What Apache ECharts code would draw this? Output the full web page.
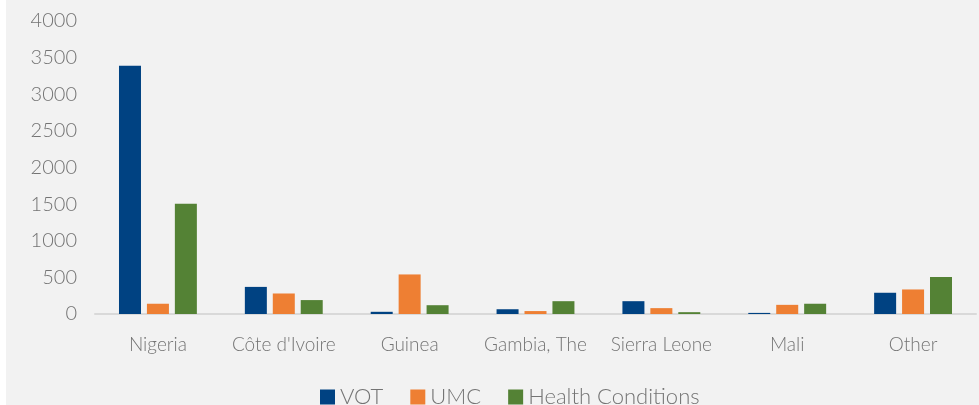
<!DOCTYPE html>
<html>
<head>
<meta charset="utf-8">
<script src="https://cdn.jsdelivr.net/npm/echarts@6/dist/echarts.min.js"></script>
<style>
html,body{margin:0;padding:0;background:#ffffff;}
#chart{position:absolute;left:6px;top:0;width:973px;height:405px;}
</style>
</head>
<body>
<div id="chart"></div>
<script>
const categories = ["Nigeria", "Côte d'Ivoire", "Guinea", "Gambia, The", "Sierra Leone", "Mali", "Other"];
const seriesNames = ["VOT", "UMC", "Health Conditions"];
const votValues = [3390, 370, 30, 65, 175, 15, 290];
const umcValues = [140, 280, 540, 40, 80, 125, 335];
const healthValues = [1505, 190, 120, 175, 25, 140, 505];
const yTicks = { min: 0, max: 4000, interval: 500 };

const colors = ["#004282", "#ee7f33", "#548235"];
const textColor = "#747474";
const font = "Lato, 'Open Sans', sans-serif";

const chart = echarts.init(document.getElementById('chart'));
chart.setOption({
  backgroundColor: '#f2f2f2',
  animation: false,
  grid: { left: 89, right: 3, top: 21, bottom: 91, containLabel: false },
  legend: {
    data: seriesNames,
    left: 309,
    top: 381,
    itemWidth: 15,
    itemHeight: 15,
    itemGap: 27,
    icon: 'rect',
    textStyle: { color: textColor, fontSize: 22, fontFamily: font, fontWeight: 300 }
  },
  xAxis: {
    type: 'category',
    data: categories,
    axisLine: { show: true, lineStyle: { color: '#d9d9d9', width: 2 } },
    axisTick: { show: false },
    axisLabel: { color: textColor, fontSize: 19, fontFamily: font, fontWeight: 300, margin: 21, interval: 0 }
  },
  yAxis: {
    type: 'value',
    min: yTicks.min, max: yTicks.max, interval: yTicks.interval,
    axisLine: { show: false },
    axisTick: { show: false },
    splitLine: { show: false },
    axisLabel: { color: textColor, fontSize: 20, fontFamily: font, fontWeight: 300, margin: 18, formatter: function (v) { return String(v); } }
  },
  series: [
    { name: seriesNames[0], type: 'bar', data: votValues, barWidth: 22, barGap: '27%', itemStyle: { color: colors[0] } },
    { name: seriesNames[1], type: 'bar', data: umcValues, barWidth: 22, barGap: '27%', itemStyle: { color: colors[1] } },
    { name: seriesNames[2], type: 'bar', data: healthValues, barWidth: 22, barGap: '27%', itemStyle: { color: colors[2] } }
  ]
});
</script>
</body>
</html>
